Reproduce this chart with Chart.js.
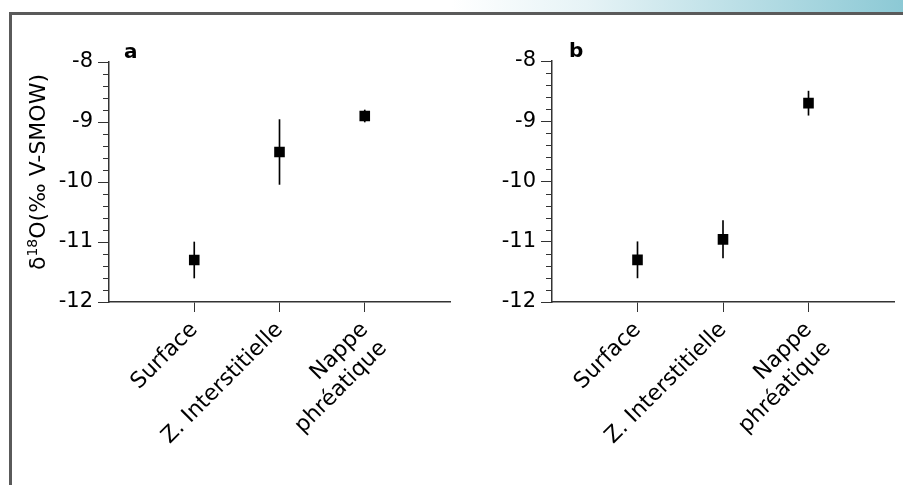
<!DOCTYPE html>
<html>
<head>
  <meta charset="UTF-8">
  <title>delta 18O</title>
  <script src="https://cdn.jsdelivr.net/npm/chart.js"></script>
  <style>
    body { margin: 0; background: #fff; width: 903px; height: 485px; position: relative; overflow: hidden; font-family: "DejaVu Sans", sans-serif; }
    .topbar { position: absolute; left: 0; top: 0; width: 903px; height: 12px;
      background: linear-gradient(to right, #fff 0%, #fff 50%, #e6f3f6 65%, #8cc9d5 100%); }
    .frame { position: absolute; left: 9px; top: 12px; width: 910px; height: 500px;
      border-top: 3px solid #5a5a5a; border-left: 3px solid #5a5a5a; }
    canvas { position: absolute; top: 0; }
    #panelA { left: 0; }
    #panelB { left: 470px; }
  </style>
</head>
<body>
  <div class="topbar"></div>
  <div class="frame"></div>
  <canvas id="panelA" width="490" height="485"></canvas>
  <canvas id="panelB" width="470" height="485"></canvas>

  <script>
    const categories = ['Surface', 'Z. Interstitielle', ['Nappe', 'phréatique']];
    const meanA = [-11.3, -9.5, -8.9];
    const errA = [0.3, 0.54, 0.1];
    const meanB = [-11.3, -10.96, -8.7];
    const errB = [0.3, 0.31, 0.2];
    const yMin = -12, yMax = -8;
    // y title: delta, superscript 18, rest
    const yTitleParts = ['δ', '18', 'O(‰ V-SMOW)'];

    const axisColor = '#333';
    const fontFamily = 'DejaVu Sans';

    // empty slots at both ends so the categories sit at 1/4, 2/4, 3/4
    const labels = ['', ...categories, ''];

    // small ticks every 0.2 between the labelled ones
    const minorTicks = {
      id: 'minorTicks',
      afterDraw(chart) {
        const y = chart.scales.y, ctx = chart.ctx;
        ctx.save();
        ctx.strokeStyle = axisColor;
        ctx.lineWidth = 1;
        for (let i = 1; i < 20; i++) {
          if (i % 5 === 0) continue;
          const py = Math.round(y.getPixelForValue(yMin + i * 0.2)) + 0.5;
          ctx.beginPath();
          ctx.moveTo(y.right - 6, py);
          ctx.lineTo(y.right, py);
          ctx.stroke();
        }
        ctx.restore();
      }
    };

    const panelLetter = {
      id: 'panelLetter',
      afterDraw(chart, args, opts) {
        const ctx = chart.ctx;
        ctx.save();
        ctx.font = 'bold 20px "' + fontFamily + '"';
        ctx.fillStyle = '#000';
        ctx.fillText(opts.text, chart.chartArea.left + opts.dx, chart.chartArea.top - 4);
        ctx.restore();
      }
    };

    // rotated y title with a real superscript, a bit above the axis middle
    const yTitle = {
      id: 'yTitle',
      afterDraw(chart, args, opts) {
        if (!opts.show) return;
        const ctx = chart.ctx, y = chart.scales.y;
        const big = '22px "' + fontFamily + '"', small = '14px "' + fontFamily + '"';
        ctx.save();
        ctx.font = big;
        const w0 = ctx.measureText(yTitleParts[0]).width;
        const w2 = ctx.measureText(yTitleParts[2]).width;
        ctx.font = small;
        const w1 = ctx.measureText(yTitleParts[1]).width;
        const total = w0 + w1 + w2;
        const cy = (y.top + y.bottom) / 2 - 10;
        ctx.translate(45, cy);
        ctx.rotate(-Math.PI / 2);
        ctx.fillStyle = '#000';
        ctx.textBaseline = 'alphabetic';
        let x = -total / 2;
        ctx.font = big;
        ctx.fillText(yTitleParts[0], x, 0);
        x += w0;
        ctx.font = small;
        ctx.fillText(yTitleParts[1], x, -8);
        x += w1;
        ctx.font = big;
        ctx.fillText(yTitleParts[2], x, 0);
        ctx.restore();
      }
    };

    function makePanel(id, means, errs, opt) {
      const bars = labels.map((l, i) => (i === 0 || i === labels.length - 1) ? null
        : [means[i - 1] - errs[i - 1], means[i - 1] + errs[i - 1]]);
      const points = labels.map((l, i) => (i === 0 || i === labels.length - 1) ? null : means[i - 1]);

      new Chart(document.getElementById(id), {
        type: 'bar',
        data: {
          labels: labels,
          datasets: [
            {
              type: 'line',
              data: points,
              showLine: false,
              pointStyle: 'rect',
              pointRadius: 7.5,
              pointHoverRadius: 7.5,
              pointBorderWidth: 0,
              pointBackgroundColor: '#000',
              borderColor: '#000',
              order: 0
            },
            {
              data: bars,
              backgroundColor: '#000',
              barThickness: 1,
              order: 1
            }
          ]
        },
        plugins: [minorTicks, panelLetter, yTitle],
        options: {
          responsive: false,
          animation: false,
          layout: { padding: { left: 0, top: opt.top, right: opt.right, bottom: 0 } },
          plugins: {
            legend: { display: false },
            tooltip: { enabled: false },
            panelLetter: { text: opt.letter, dx: opt.letterDx },
            yTitle: { show: opt.showTitle }
          },
          scales: {
            x: {
              offset: false,
              grid: {
                offset: false,
                drawOnChartArea: false,
                tickLength: 10,
                tickColor: ctx => (ctx.index === 0 || ctx.index === labels.length - 1) ? 'rgba(0,0,0,0)' : axisColor
              },
              border: { color: axisColor, width: 1.5 },
              ticks: {
                autoSkip: false,
                minRotation: 45,
                maxRotation: 45,
                padding: 5,
                color: '#000',
                font: { family: fontFamily, size: 22 }
              },
              afterFit(scale) { scale.height = 485 - 302; }
            },
            y: {
              min: yMin,
              max: yMax,
              grid: { drawOnChartArea: false, tickLength: 11, tickColor: axisColor },
              border: { color: axisColor, width: 1.5 },
              ticks: {
                stepSize: 1,
                padding: 5,
                color: '#000',
                font: { family: fontFamily, size: 21 }
              },
              afterFit(scale) { scale.width = opt.yWidth; }
            }
          }
        }
      });
    }

    makePanel('panelA', meanA, errA, { top: 62, right: 40, yWidth: 109, letter: 'a', letterDx: 15, showTitle: true });
    makePanel('panelB', meanB, errB, { top: 61, right: 46, yWidth: 82, letter: 'b', letterDx: 17, showTitle: false });
  </script>
</body>
</html>
